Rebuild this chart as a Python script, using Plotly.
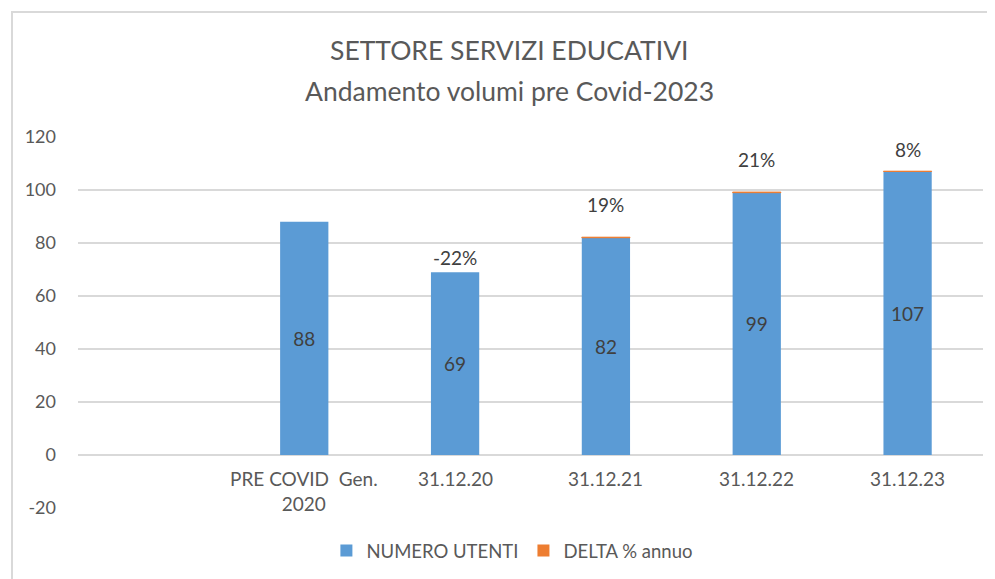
import plotly.graph_objects as go

categories = [" ", "PRE COVID  Gen.<br>2020", "31.12.20", "31.12.21", "31.12.22", "31.12.23"]
numero_utenti = [None, 88, 69, 82, 99, 107]
delta_annuo = [None, None, -0.22, 0.19, 0.21, 0.08]
delta_labels = ["", "", "-22%", "19%", "21%", "8%"]
y_ticks = [-20, 0, 20, 40, 60, 80, 100, 120]
# pixel shift of the % labels above the bar tops (style only)
label_offsets_px = [0, 0, 1, 19, 19, 8]

BLUE = "#5b9bd5"
ORANGE = "#ed7d31"
GRID = "#d9d9d9"
TXT = "#595959"
FONT = "Lato"

# page offset of the plot (browser body margin)
OFF = 8

fig = go.Figure()
fig.add_trace(go.Bar(
    x=categories, y=numero_utenti, name="NUMERO UTENTI",
    marker=dict(color=BLUE, line=dict(width=0)),
    text=[("" if v is None else str(v)) for v in numero_utenti],
    textposition="inside", insidetextanchor="middle",
    textfont=dict(family=FONT, size=19, color="#404040"),
    cliponaxis=False,
))
fig.add_trace(go.Bar(
    x=categories, y=delta_annuo, name="DELTA % annuo",
    marker=dict(color=[("rgba(0,0,0,0)" if (d is not None and d < 0) else ORANGE) for d in delta_annuo],
                line=dict(color=ORANGE,
                          width=[0 if (d is None or d < 0) else 1 for d in delta_annuo])),
    textposition="none",
))

annotations = []
# category labels sitting under the zero line
for c in categories:
    annotations.append(dict(
        x=c, y=0, xref="x", yref="y", text=c.strip(), showarrow=False,
        yanchor="top", yshift=-10,
        font=dict(family=FONT, size=19, color=TXT),
    ))
# delta % labels above the bars
for c, v, d, lab, off in zip(categories, numero_utenti, delta_annuo, delta_labels, label_offsets_px):
    if not lab:
        continue
    top = v + max(d, 0)
    annotations.append(dict(
        x=c, y=top, xref="x", yref="y", text=lab, showarrow=False,
        yanchor="bottom", yshift=off,
        font=dict(family=FONT, size=19, color="#404040"),
    ))
# title lines
annotations.append(dict(x=0.477, y=(508 - 50) / 371, xref="paper", yref="paper",
                        text="SETTORE SERVIZI EDUCATIVI", showarrow=False,
                        yanchor="middle", xanchor="center",
                        font=dict(family=FONT, size=26.5, color=TXT)))
annotations.append(dict(x=0.477, y=(508 - 91) / 371, xref="paper", yref="paper",
                        text="Andamento volumi pre Covid-2023", showarrow=False,
                        yanchor="middle", xanchor="center",
                        font=dict(family=FONT, size=26.5, color=TXT)))

fig.update_layout(
    width=995, height=579,
    margin=dict(l=78 - OFF, r=995 + OFF - 983, t=137 - OFF, b=579 + OFF - 508),
    paper_bgcolor="white", plot_bgcolor="white",
    barmode="relative", bargap=0.68,
    showlegend=True,
    legend=dict(orientation="h", x=0.48, xanchor="center", y=(508 - 551) / 371, yanchor="middle",
                font=dict(family=FONT, size=18.5, color=TXT), traceorder="normal",
                itemwidth=30),
    annotations=annotations,
    shapes=[dict(type="rect", xref="paper", yref="paper",
                 x0=(12 - 78) / 905, x1=(1100 - 78) / 905,
                 y0=(508 - 700) / 371, y1=(508 - 12) / 371,
                 line=dict(color=GRID, width=2), fillcolor="rgba(0,0,0,0)", layer="below")],
    font=dict(family=FONT, color=TXT),
)
fig.update_xaxes(type="category", categoryarray=categories, categoryorder="array",
                 showticklabels=False, showgrid=False, zeroline=False, showline=False,
                 range=[-0.5, 5.5])
fig.update_yaxes(range=[-20, 120], tickvals=y_ticks, ticktext=[str(t) for t in y_ticks],
                 showgrid=True, gridcolor=GRID, gridwidth=1.5,
                 zeroline=True, zerolinecolor=GRID, zerolinewidth=1.5,
                 showline=False, ticks="", ticklabelstandoff=21,
                 tickfont=dict(family=FONT, size=18, color=TXT))

fig.write_html("out.html")
